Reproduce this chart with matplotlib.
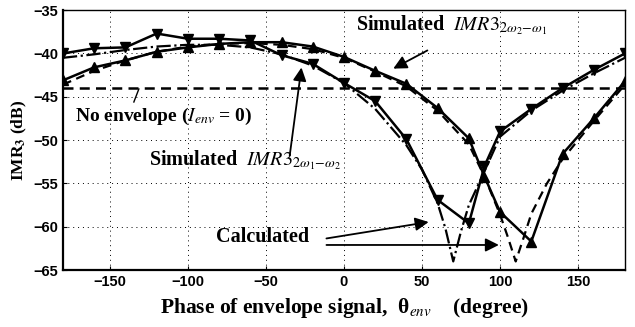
import numpy as np
import matplotlib
matplotlib.use("Agg")
import matplotlib.pyplot as plt

plt.rcParams['font.family'] = ['Liberation Serif', 'DejaVu Serif']
plt.rcParams['mathtext.fontset'] = 'stix'

# simulated IMR3 (2w1-w2), down triangles
phase_sim = [-180, -160, -140, -120, -100, -80, -60, -40, -20, 0, 20, 40, 60, 80, 90, 100, 120, 140, 160, 180]
imr_21 = [-40.0, -39.4, -39.3, -37.7, -38.3, -38.3, -38.5, -40.2, -41.2, -43.4, -45.5, -49.9, -56.9, -59.6,
          -53.0, -49.0, -46.4, -44.0, -41.9, -40.0]
# simulated IMR3 (2w2-w1), up triangles
imr_12 = [-43.1, -41.6, -40.8, -39.8, -39.3, -38.9, -38.7, -38.7, -39.2, -40.4, -42.0, -43.5, -46.3, -49.8,
          -54.2, -58.3, -61.7, -51.6, -47.5, -43.2]

# calculated curves
phase_c1 = [-180, -160, -140, -120, -100, -80, -60, -40, -20, 0, 20, 40, 50, 60, 65, 70, 75, 80, 90, 100,
            120, 140, 160, 180]
calc_21 = [-40.5, -40.1, -39.6, -39.2, -39.0, -39.0, -39.3, -40.1, -41.4, -43.4, -46.4, -50.6, -53.4, -57.3,
           -60.2, -64.0, -60.5, -57.5, -53.6, -49.6, -46.6, -44.3, -42.3, -40.5]
phase_c2 = [-180, -160, -140, -120, -100, -80, -60, -40, -20, 0, 20, 40, 60, 80, 90, 100, 105, 110, 115,
            120, 130, 140, 160, 180]
calc_12 = [-43.6, -42.0, -40.8, -39.8, -39.2, -38.9, -38.8, -39.0, -39.5, -40.5, -42.1, -43.8, -46.6, -50.5,
           -54.2, -58.6, -61.2, -64.0, -61.3, -58.5, -55.0, -52.2, -47.8, -43.6]

no_env = -44.0

xticks = [-150, -100, -50, 0, 50, 100, 150]
yticks = [-65, -60, -55, -50, -45, -40, -35]

fig = plt.figure(figsize=(6.35, 3.27), dpi=100)
ax = fig.add_axes([0.0992, 0.174, 0.8850, 0.795])

ax.plot(phase_c1, calc_21, color='black', lw=1.6, ls='-.', zorder=2)
ax.plot(phase_c2, calc_12, color='black', lw=1.6, ls=(0, (4, 2.5)), zorder=2)
ax.plot(phase_sim, imr_21, color='black', lw=1.8, marker='v', ms=7, zorder=3)
ax.plot(phase_sim, imr_12, color='black', lw=1.8, marker='^', ms=7, zorder=3)
ax.axhline(no_env, color='black', lw=1.8, ls=(0, (4, 2.5)), zorder=2)

ax.set_xlim(-180, 180)
ax.set_ylim(-65, -35)
ax.set_xticks(xticks)
ax.set_yticks(yticks)
ax.set_xticklabels([str(t).replace('-', '\u2212') for t in xticks], family='Liberation Sans',
                   fontweight='bold', fontsize=10.5)
ax.set_yticklabels([str(t).replace('-', '\u2212') for t in yticks], family='Liberation Sans',
                   fontweight='bold', fontsize=10.5)
ax.grid(True, color='black', ls=(0, (1, 4)), lw=0.7)
ax.tick_params(direction='in', length=3, width=0.8)
for s in ax.spines.values():
    s.set_linewidth(1.0)
ax.spines['bottom'].set_linewidth(1.6)
ax.spines['left'].set_linewidth(1.6)

ax.set_xlabel('Phase of envelope signal,  \u03b8$_{\\mathit{env}}$    (degree)', fontsize=15.5,
              fontweight='bold', labelpad=5)
ax.set_ylabel(r'IMR$_\mathbf{3}$ (dB)', fontsize=12.5, fontweight='bold', labelpad=3)

arrow = dict(arrowstyle='-|>', color='black', lw=1.3, mutation_scale=20)

ax.text(8, -36.7, r'Simulated  $\mathit{IMR3}_{2\omega_2\mathrm{-}\omega_1}$', fontsize=14.5,
        fontweight='bold', ha='left', va='center')
ax.annotate('', xy=(30, -41.9), xytext=(55, -39.5), arrowprops=arrow)

ax.text(-172, -47.3, r'No envelope ($\mathit{I_{env}}$ = 0)', fontsize=14, fontweight='bold',
        ha='left', va='center')
ax.plot([-134.6, -131.4], [-45.6, -44.1], color='black', lw=1.0)

ax.text(-125, -52.3, r'Simulated  $\mathit{IMR3}_{2\omega_1\mathrm{-}\omega_2}$', fontsize=14.5,
        fontweight='bold', ha='left', va='center')
ax.annotate('', xy=(-27, -41.3), xytext=(-35, -52.1), arrowprops=arrow)

ax.text(-82, -61.2, 'Calculated', fontsize=14.5, fontweight='bold', ha='left', va='center')
ax.annotate('', xy=(56, -59.4), xytext=(-13, -61.4), arrowprops=arrow)
ax.annotate('', xy=(101, -62.1), xytext=(-13, -62.1), arrowprops=arrow)

fig.savefig('out.png', dpi=100)
